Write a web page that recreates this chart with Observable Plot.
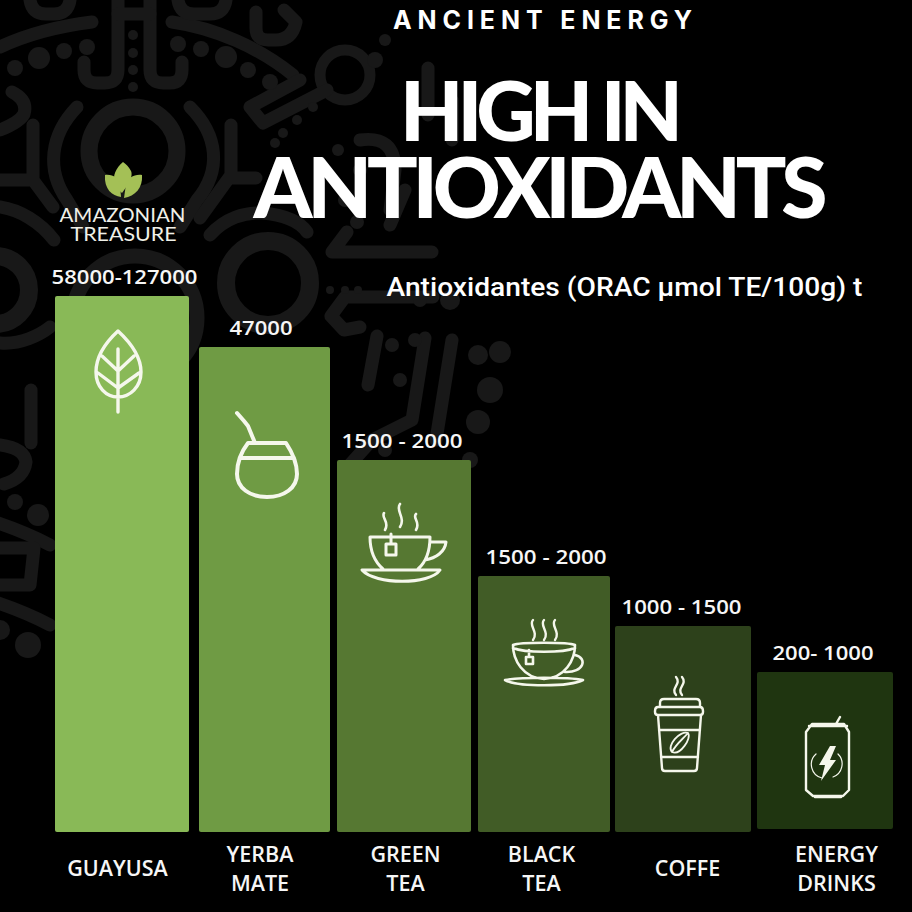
<!DOCTYPE html>
<html>
<head>
<meta charset="utf-8">
<script src="https://cdn.jsdelivr.net/npm/d3@7"></script>
<script src="https://cdn.jsdelivr.net/npm/@observablehq/plot@0.6"></script>
<style>
html,body{margin:0;padding:0;background:#000;}
svg{display:block;}
</style>
</head>
<body>
<div id="chart"></div>
<script>
// ---- data ----
const categories = [["GUAYUSA"],["YERBA","MATE"],["GREEN","TEA"],["BLACK","TEA"],["COFFE"],["ENERGY","DRINKS"]];
const valueLabels = ["58000-127000","47000","1500 - 2000","1500 - 2000","1000 - 1500","200- 1000"];
const barHeights = [536,485,372,256,206,160];
const barBases = [0,0,0,0,0,3];
const barColors = ["#89b957","#6f9b44","#567832","#415c26","#2d411b","#1f3510"];

// ---- layout (scale + label nudges) ----
const barEdges = [55,189,199,330,337,471,478,610,615,751,757,893];
const valueNudge = [2,-4,-2.5,1.5,-2,-2.5];
const catNudge = [-5,-5,1,-3,4,11];

const PATTERN = "#181818", INK = "#f5f7ec";

const patternStroke = [
 // top band and U shapes
 "M0 47 C30 33 60 26 92 22","M172 22 C215 28 260 48 293 75",
 "M118 0 V70 Q118 83 105 83 H97 Q84 83 84 70 V62",
 "M150 0 V70 Q150 83 163 83 H170 Q182 83 182 70 V62",
 "M118 14 H150",
 "M30 0 Q32 14 46 14 H54 Q68 14 70 0","M178 0 Q180 14 194 14 H210 Q224 14 226 0",
 "M256 12 V28 Q256 40 268 40 H276 Q292 40 296 22 L284 10",
 "M12 92 Q28 100 24 114 Q20 122 0 130",
 // Y branches and arcs around the central ring
 "M33 125 V180 M33 180 H0 M33 180 L53 207",
 "M231 125 V175 L200 218 M231 178 H256",
 "M77 107 C50 135 46 170 67 200 L83 227",
 "M190 107 C218 135 222 170 197 200 L180 227",
 "M0 207 C20 210 40 222 54 240","M0 343 C20 345 40 335 50 327",
 "M210 235 C225 218 245 212 262 213 C285 215 300 222 307 232",
 // hook and neck of the key
 "M300 80 L250 107 L263 123 L327 90",
 // right side snakes
 "M347 232 L332 252 H432","M433 297 H345 L331 316 L344 330 L360 327",
 "M377 336 L368 385 M425 338 L412 420 L372 440 L345 470 M452 340 L436 440 M405 190 L390 225",
 "M360 140 Q395 135 395 170 L390 210 M428 68 V115 M452 100 V140",
 // lower-left strip
 "M31 390 V443","M0 445 Q24 448 26 462 Q24 478 4 484",
 "M-5 522 Q25 532 50 545","M0 548 H34 L30 585 H0","M-5 602 Q25 612 50 625"
];
const patternRings = [[133,151,44,17],[345,75,25,11],[268,283,42,18],[-5,290,34,18],[135,318,62,15]];
const patternDots = [[15,68,8],[39,58,11],[64,51,8],[87,47,8],[133,35,5],[133,53,5],[133,70,5],[133,87,5],
 [178,44,8],[201,49,8],[226,57,11],[248,70,8],[270,82,8],[313,107,5],[297,120,5],[283,133,5],[275,143,5],
 [385,40,6],[375,60,8],[338,150,6],[360,170,7],[345,200,7],[357,222,7],[330,290,4],[345,290,4],[358,290,4],
 [420,300,7],[450,300,10],[415,340,7],[392,345,7],[478,355,10],[500,352,11],[490,390,13],[478,422,12],[470,460,8],[400,380,7],[385,450,7],
 [15,502,8],[38,515,11],[0,630,10],[28,645,13]];

// ---- icons (decoration, drawn in the frame's pixels) ----
const icons = [
 // leaf
 "M118 331 C105 343 96 356 96 372 C96 387 106 397 118 397 C130 397 141 387 141 372 C141 356 131 343 118 331 Z M118 349 V412 M118 371 L102 356 M118 371 L134 356 M118 388 L98 373 M118 388 L139 373",
 // mate
 "M248 443 H286 C292 452 297 462 297 474 C297 488 284 497 267 497 C250 497 237 488 237 474 C237 462 241 452 248 443 Z M240 458 H294 M237 413 L244 421 L248 426 L255 443",
 // green tea
 "M370 537 H430 C430 552 426 562 418 569 M370 537 C370 552 375 562 383 569 M430 542 H446 C445 552 436 558 425 560 M362 570 H440 C430 585 375 585 362 570 Z M391 534 V543 M386 544 H396 V555 H386 Z",
 "M384 513 C381 518 390 522 385 530 M400 504 C395 510 406 518 400 527 M416 514 C412 518 421 522 416 530",
 // black tea
 "M513 645 C520 642 568 642 575 645 C575 660 565 678 544 679 C523 678 513 660 513 645 Z M513 648 C525 653 563 653 575 648 M575 655 C588 658 584 673 565 672 M505 680 C520 677 568 677 583 680 C570 687 518 687 505 680 Z M529 650 V657 M526 657 H533 V664 H526 Z",
 "M533 620 C528 625 539 632 533 640 M544 620 C539 625 550 632 544 640 M555 620 C550 625 561 632 555 640",
 // coffee cup
 "M660 707 V703 Q660 699 664 699 H696 Q700 699 700 703 V707 M658 707 H700 Q703 707 703 711 V712 Q703 715 700 715 H658 Q655 715 655 712 V711 Q655 707 658 707 Z M658 715 L662 768 Q662 771 665 771 H694 Q697 771 697 768 L701 715 M659 730 H700 M661 757 H698",
 "M676 695 C670 688 682 684 676 677 M682 695 C676 688 688 684 682 677",
 "M672 752 C666 746 680 730 688 733 C692 738 680 756 672 752 Z M672 752 C676 744 682 740 688 733",
 // can
 "M809 726 H847 M812 724 H844 L849 732 V790 L843 796 H813 L806 790 V732 Z M815 797 H841 M836 724 L840 717",
 "M816 754 A14 14 0 0 0 822 778 M838 754 A14 14 0 0 1 833 777",
];
const iconWidths = [3.4,4,3,2.6,2.6,2.4,2.4,2.4,1.8,2.4,1.2];
const bolt = "M830 746 L819 765 H825 L821 781 L836 760 H830 L836 746 Z";
const leaves = [
 "M123 162 C116 168 112 176 115 184 C117 189 120 191 122 193 C125 189 134 178 131 171 C129 167 126 164 123 162 Z",
 "M105 175 C113 174 118 178 120 184 L121 197 C112 196 104 189 105 175 Z",
 "M142 175 C134 174 128 178 126 184 L124 198 C135 196 143 188 142 175 Z"
];

function decor(paths, dots, rings) {
  return () => {
    const g = d3.create("svg:g");
    g.selectAll("circle.r").data(rings).join("circle").attr("cx",d=>d[0]).attr("cy",d=>d[1]).attr("r",d=>d[2])
      .attr("fill","none").attr("stroke",PATTERN).attr("stroke-width",d=>d[3]);
    g.selectAll("path").data(paths).join("path").attr("d",d=>d).attr("fill","none").attr("stroke",PATTERN)
      .attr("stroke-width",13).attr("stroke-linecap","round").attr("stroke-linejoin","round");
    g.selectAll("circle.d").data(dots).join("circle").attr("cx",d=>d[0]).attr("cy",d=>d[1]).attr("r",d=>d[2]).attr("fill",PATTERN);
    return g.node();
  };
}
function iconMark() {
  return () => {
    const g = d3.create("svg:g");
    g.selectAll("path.i").data(icons).join("path").attr("d",d=>d).attr("fill","none").attr("stroke",INK)
      .attr("stroke-width",(d,i)=>iconWidths[i]).attr("stroke-linecap","round").attr("stroke-linejoin","round");
    g.append("path").attr("d",bolt).attr("fill",INK);
    g.selectAll("path.l").data(leaves).join("path").attr("d",d=>d).attr("fill","#a4c056");
    return g.node();
  };
}

const bars = categories.map((c,i)=>({i,h:barHeights[i],b:barBases[i],fill:barColors[i],v:valueLabels[i]}));

const free = (text, x, y, o) => Plot.text([text], {frameAnchor:"top-left", dx:x, dy:y, textAnchor:"middle", lineAnchor:"middle", fill:"#fff", ...o});

const catMarks = [];
categories.forEach((lines,i)=>{
  const ys = lines.length===1 ? [37] : [23,52];
  lines.forEach((t,j)=>catMarks.push(Plot.text([t],{
    x:()=>2*i+.5, y:()=>0, dx:catNudge[i], dy:ys[j], fill:"#f6f6f6",
    fontFamily:"Open Sans", fontWeight:600, fontSize:21.5, lineAnchor:"middle"
  })));
});

const chart = Plot.plot({
  width:912, height:912, margin:0,
  style:{background:"#000", overflow:"hidden"},
  x:{type:"linear", domain:barEdges.map((d,i)=>i), range:barEdges, axis:null},
  y:{type:"linear", domain:[0,832], range:[832,0], axis:null},
  color:{type:"identity"},
  marks:[
    decor(patternStroke, patternDots, patternRings),
    Plot.rect(bars,{x1:d=>2*d.i, x2:d=>2*d.i+1, y1:"b", y2:"h", fill:"fill", r:2}),
    iconMark(),
    ...bars.map(d=>Plot.text([d.v],{x:()=>2*d.i+.5, y:()=>d.h, dx:valueNudge[d.i], dy:-18.5, fill:"#f6f6f6",
       fontFamily:"Open Sans", fontWeight:600, fontSize:20, lineAnchor:"middle"})),
    ...catMarks,
    free("ANCIENT ENERGY",542,20,{fontFamily:"Inter",fontWeight:700,fontSize:25}),
    free("HIGH IN",541,114,{fontFamily:"Lato",fontWeight:900,fontSize:82}),
    free("ANTIOXIDANTS",540,191,{fontFamily:"Lato",fontWeight:900,fontSize:84}),
    free("Antioxidantes (ORAC µmol TE/100g) t",624,287,{fontFamily:"Roboto",fontWeight:500,fontSize:25}),
    free("AMAZONIAN",122,215,{fontFamily:"Lato",fontWeight:400,fontSize:20,fill:"#f0f0e8"}),
    free("TREASURE",123,234,{fontFamily:"Lato",fontWeight:400,fontSize:20,fill:"#f0f0e8"}),
  ]
});

const fit = {"ANCIENT ENERGY":[299,"spacing"],"HIGH IN":[283,"spacing"],"ANTIOXIDANTS":[574,"spacing"],
 "Antioxidantes (ORAC µmol TE/100g) t":[476,"spacingAndGlyphs"],"AMAZONIAN":[126,"spacingAndGlyphs"],"TREASURE":[106,"spacingAndGlyphs"],
 "58000-127000":[146,"spacingAndGlyphs"],"47000":[63,"spacingAndGlyphs"],"1500 - 2000":[121,"spacingAndGlyphs"],"1000 - 1500":[120,"spacingAndGlyphs"],"200- 1000":[101,"spacingAndGlyphs"]};
d3.select(chart).selectAll("text").each(function(){
  const f = fit[this.textContent];
  if (f) { this.setAttribute("textLength",f[0]); this.setAttribute("lengthAdjust",f[1]); }
});
document.getElementById("chart").append(chart);
</script>
</body>
</html>
